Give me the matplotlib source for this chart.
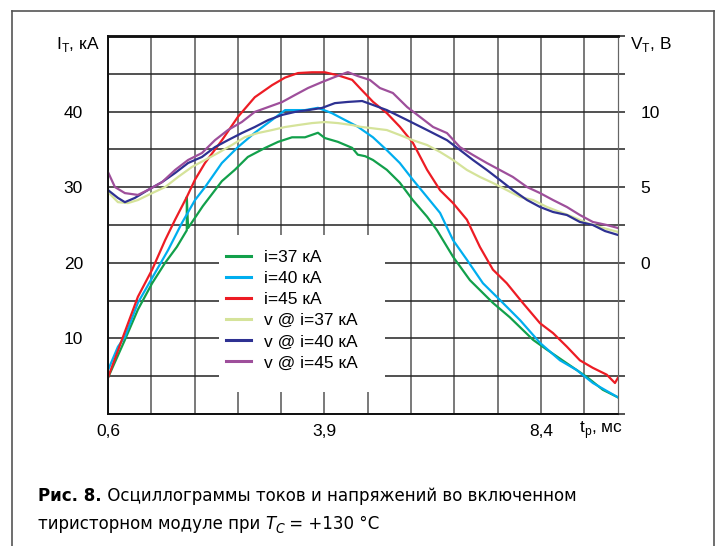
import numpy as np
import matplotlib
matplotlib.use('Agg')
from matplotlib import pyplot as plt
from matplotlib import font_manager
from matplotlib.ft2font import FT2Font
from matplotlib.lines import Line2D
from matplotlib.patches import Rectangle
from matplotlib.ticker import MultipleLocator

## data (x in scope grid divisions, current in kA, voltage in V)
x_ticklabels = ['0,6', '', '', '', '', '3,9', '', '', '', '', '8,4', '']

x_i37 = [0, 0.39, 0.69, 1.02, 1.32, 1.59, 1.82, 1.82, 1.85, 2.19, 2.63, 2.93, 3.23, 3.63, 3.93, 4.25,
         4.55, 4.85, 5.01, 5.31, 5.64, 5.77, 5.94, 6.12, 6.44, 6.74, 7.04, 7.37, 7.60, 7.97, 8.36,
         8.89, 9.28, 9.82, 10.14, 10.60, 11.06, 11.43, 11.78]
i37 = [4.8, 9.8, 13.8, 17.3, 20.0, 22.1, 24.3, 28.7, 24.6, 27.5, 30.8, 32.3, 34.0, 35.2, 36.0, 36.6,
       36.6, 37.2, 36.5, 36.0, 35.2, 34.3, 34.1, 33.6, 32.3, 30.6, 28.3, 26.1, 24.3, 20.8, 17.7,
       14.7, 12.8, 9.8, 8.5, 6.7, 4.9, 3.2, 2.2]

x_i40 = [0, 0.23, 0.39, 0.69, 1.09, 1.39, 1.71, 2.01, 2.24, 2.63, 3.00, 3.39, 3.79, 4.09, 4.55, 4.85,
         5.17, 5.47, 5.77, 6.12, 6.44, 6.74, 7.04, 7.37, 7.67, 7.97, 8.29, 8.66, 9.05, 9.52, 9.98,
         10.44, 10.83, 11.20, 11.78]
i40 = [5.8, 8.9, 10.2, 14.7, 18.7, 21.7, 25.3, 28.3, 30.0, 33.2, 35.3, 37.2, 38.9, 40.2, 40.2, 40.5,
       39.8, 38.9, 38.0, 36.6, 34.9, 33.2, 31.0, 28.7, 26.6, 23.0, 20.4, 17.3, 15.1, 12.4, 9.4,
       7.1, 5.8, 4.1, 2.2]

x_i45 = [0, 0.32, 0.69, 1.02, 1.32, 1.55, 1.82, 2.01, 2.24, 2.63, 3.00, 3.39, 3.79, 4.09, 4.39, 4.71,
         5.01, 5.31, 5.64, 5.82, 6.12, 6.44, 6.74, 7.04, 7.37, 7.67, 7.97, 8.29, 8.59, 8.89, 9.21,
         9.58, 9.98, 10.28, 10.60, 10.90, 11.20, 11.52, 11.71, 11.78]
i45 = [4.8, 9.8, 15.5, 19.1, 23.0, 25.7, 28.7, 31.0, 33.2, 36.2, 39.3, 41.9, 43.5, 44.5, 45.1, 45.2,
       45.2, 44.8, 44.2, 43.1, 41.3, 39.8, 38.0, 35.9, 32.3, 29.6, 27.9, 25.7, 22.1, 19.1, 17.3,
       14.7, 12.0, 10.7, 8.9, 7.1, 6.1, 5.2, 4.1, 4.8]

x_v37 = [0, 0.23, 0.46, 0.69, 1.02, 1.32, 1.62, 1.94, 2.24, 2.54, 2.86, 3.16, 3.46, 3.79, 4.09, 4.39,
         4.71, 5.01, 5.31, 5.64, 5.82, 6.44, 6.74, 7.04, 7.37, 7.67, 7.97, 8.29, 8.59, 8.89, 9.21,
         9.52, 9.82, 10.14, 10.44, 10.74, 11.06, 11.36, 11.78]
v37 = [4.68, 4.01, 3.95, 4.15, 4.61, 5.01, 5.68, 6.34, 6.80, 7.26, 7.79, 8.31, 8.58, 8.78, 8.98, 9.11,
       9.24, 9.31, 9.24, 9.11, 9.0, 8.78, 8.45, 8.11, 7.79, 7.33, 6.80, 6.14, 5.68, 5.28, 4.81,
       4.35, 4.15, 3.69, 3.36, 3.03, 2.63, 2.36, 2.04]

x_v40 = [0, 0.23, 0.39, 0.62, 0.92, 1.25, 1.55, 1.85, 2.17, 2.47, 2.77, 3.09, 3.39, 3.70, 4.02, 4.32,
         4.62, 4.94, 5.24, 5.54, 5.87, 6.12, 6.44, 6.91, 7.37, 7.83, 8.13, 8.43, 8.75, 9.05, 9.35,
         9.68, 9.98, 10.28, 10.60, 10.90, 11.20, 11.48, 11.78]
v40 = [4.81, 4.29, 4.01, 4.29, 4.81, 5.34, 5.94, 6.60, 7.0, 7.65, 8.11, 8.58, 8.98, 9.44, 9.78, 9.98,
       10.10, 10.24, 10.56, 10.64, 10.70, 10.44, 10.10, 9.44, 8.78, 8.11, 7.46, 6.80, 6.14, 5.48, 4.81,
       4.15, 3.69, 3.36, 3.16, 2.70, 2.50, 2.10, 1.84]

x_v45 = [0, 0.16, 0.39, 0.69, 0.92, 1.25, 1.55, 1.85, 2.17, 2.47, 2.77, 3.09, 3.39, 3.70, 4.02, 4.32,
         4.62, 4.94, 5.24, 5.54, 5.77, 6.05, 6.28, 6.58, 6.91, 7.21, 7.51, 7.83, 8.13, 8.43, 8.75,
         9.05, 9.35, 9.68, 9.98, 10.28, 10.60, 10.90, 11.20, 11.52, 11.78]
v45 = [6.0, 5.01, 4.61, 4.49, 4.81, 5.34, 6.14, 6.80, 7.26, 8.11, 8.78, 9.31, 9.98, 10.30, 10.63, 11.10,
       11.56, 11.95, 12.29, 12.61, 12.35, 12.09, 11.56, 11.23, 10.30, 9.64, 8.98, 8.58, 7.65, 7.13, 6.60,
       6.14, 5.68, 5.01, 4.61, 4.15, 3.69, 3.16, 2.70, 2.50, 2.30]

labels = ['i=37 кА', 'i=40 кА', 'i=45 кА', 'v @ i=37 кА', 'v @ i=40 кА', 'v @ i=45 кА']
colors = ['#12a04b', '#00aeef', '#ed1c24', '#d5e39a', '#2e3192', '#9e4f9b']

plt.rcParams['font.family'] = ['Liberation Sans', 'DejaVu Sans']

W, H = 717, 546
fig = plt.figure(figsize=(W / 100, H / 100), dpi=100)

def fx(px):
    return px / W

def fy(py):
    return 1 - py / H

ax = fig.add_axes([fx(108), fy(414), fx(618) - fx(108), fy(36) - fy(414)])
ax2 = ax.twinx()

ax.set_xlim(0, 11.78)
ax.set_ylim(0, 50)
ax2.set_ylim(-10, 15)

## grid
ax.set_axisbelow(True)
ax.set_xticks(range(12))
ax.set_xticklabels(x_ticklabels)
ax.set_yticks(range(0, 51, 5))
ax.set_yticklabels(['' if v % 10 or v in (0, 50) else str(v) for v in range(0, 51, 5)])
ax.grid(axis='x', color='#555555', lw=1.1)
ax.grid(axis='y', color='#222222', lw=1.1)
ax.tick_params(axis='both', length=0, labelsize=12.5)
ax.tick_params(axis='y', pad=18)
ax.tick_params(axis='x', pad=7)

ax2.set_yticks([0, 5, 10])
ax2.set_yticklabels(['0', '5', '10'])
ax2.yaxis.set_minor_locator(MultipleLocator(2.5))
ax2.tick_params(axis='y', which='both', direction='out', length=5, width=1.1, color='#222222')
ax2.tick_params(axis='y', which='major', labelsize=12.5, pad=11)

for a in (ax, ax2):
    a.spines['left'].set_color('#111111')
    a.spines['bottom'].set_color('#111111')
    a.spines['top'].set_color('#111111')
    a.spines['top'].set_linewidth(1.8)
    a.spines['right'].set_color('#666666')
    a.spines['left'].set_linewidth(1.3)
    a.spines['bottom'].set_linewidth(1.3)

## curves
lw = 1.6
h1, = ax.plot(x_i37, i37, color=colors[0], lw=lw)
h2, = ax.plot(x_i40, i40, color=colors[1], lw=lw)
h3, = ax.plot(x_i45, i45, color=colors[2], lw=lw)
h4, = ax2.plot(x_v37, v37, color=colors[3], lw=lw)
h5, = ax2.plot(x_v40, v40, color=colors[4], lw=lw)
h6, = ax2.plot(x_v45, v45, color=colors[5], lw=lw)

# white patch under the legend that cuts the grid
ax2.add_patch(Rectangle((fx(219), fy(392)), fx(385) - fx(219), fy(235) - fy(392),
                        transform=fig.transFigure, facecolor='white', edgecolor='none',
                        zorder=1.5, clip_on=False))
leg = ax2.legend([h1, h2, h3, h4, h5, h6], labels, loc='upper left',
                 bbox_to_anchor=(fx(226), fy(250)), bbox_transform=fig.transFigure,
                 fontsize=12.5, frameon=False, borderaxespad=0, borderpad=0,
                 handlelength=1.45, handletextpad=0.75, labelspacing=0.34)
for l in leg.get_lines():
    l.set_linewidth(2.2)

## axis captions
fig.text(fx(100), fy(45), r'I$_\mathregular{T}$, кА', ha='right', va='center', fontsize=12.5)
fig.text(fx(630), fy(45), r'V$_\mathregular{T}$, В', ha='left', va='center', fontsize=12.5)
fig.text(fx(623), fy(430), r't$_\mathregular{p}$, мс', ha='right', va='center', fontsize=12.5)

## outer frame
for xs, ys in [((12, 12), (546, 11)), ((12, 714), (11, 11)), ((714, 714), (11, 546))]:
    fig.add_artist(Line2D([fx(xs[0]), fx(xs[1])], [fy(ys[0]), fy(ys[1])],
                          transform=fig.transFigure, color='#555555', lw=1.2))

## figure caption: use a condensed face with Cyrillic if one is installed
def has_cyrillic(path):
    try:
        return ord('ж') in FT2Font(path).get_charmap()
    except Exception:
        return False

cond_names = ('condensed', 'semi-condensed', 'extra-condensed', 'ultra-condensed')
cands = []
for f in font_manager.fontManager.ttflist:
    is_cond = ('Narrow' in f.name or 'Condensed' in f.name or str(f.stretch) in cond_names
               or (isinstance(f.stretch, int) and f.stretch < 500))
    if is_cond and f.style == 'normal' and has_cyrillic(f.fname):
        cands.append(f)
if cands:
    cap_font = dict(family=[cands[0].name, 'DejaVu Sans'], fontstretch=cands[0].stretch)
else:
    cap_font = dict(family=['Liberation Sans', 'DejaVu Sans'])
cap_size = 15

def caption_line(parts, x0, base):
    # parts: (text, kwargs, dy) placed one after another
    texts = []
    x = x0
    for s, kw, dy in parts:
        t = fig.text(fx(x), fy(base + dy), s, ha='left', va='baseline', **cap_font, **kw)
        fig.canvas.draw()
        x = t.get_window_extent().x1
        texts.append(t)
    return texts, x

def build(size):
    line1, end1 = caption_line([('Рис. 8.', dict(fontsize=size, fontweight='bold'), 0),
                                ('\u2009Осциллограммы токов и напряжений во включенном'.replace('\u2009', ' '),
                                 dict(fontsize=size), 0)], 38, 501)
    line2, end2 = caption_line([('тиристорном модуле при ', dict(fontsize=size), 0),
                                ('T', dict(fontsize=size, style='italic'), 0),
                                ('C', dict(fontsize=size * 0.75, style='italic'), 4),
                                (' = +130 °C', dict(fontsize=size), 0)], 38, 529)
    return line1 + line2, end1

texts, end1 = build(cap_size)
if end1 > 580:
    for t in texts:
        t.remove()
    texts, end1 = build(cap_size * (578 - 38) / (end1 - 38))

fig.savefig('out.png', dpi=100)
